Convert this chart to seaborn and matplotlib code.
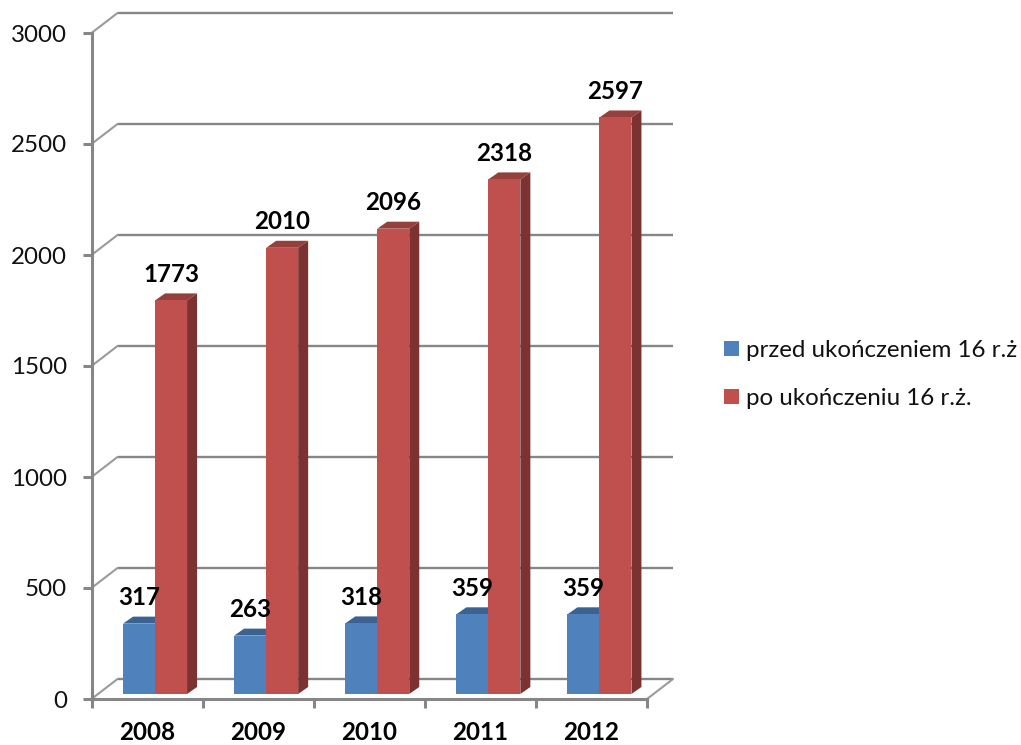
import matplotlib
matplotlib.use('Agg')
import matplotlib.pyplot as plt
from matplotlib.patches import Polygon
import pandas as pd
import seaborn as sns

years = ['2008', '2009', '2010', '2011', '2012']
before_16 = [317, 263, 318, 359, 359]
after_16 = [1773, 2010, 2096, 2318, 2597]
series_names = ['przed ukończeniem 16 r.ż', 'po ukończeniu 16 r.ż.']
y_ticks = [0, 500, 1000, 1500, 2000, 2500, 3000]

FACE = ['#4F81BD', '#C0504D']
TOP = ['#3C6291', '#96403D']
SIDE = ['#2F4F76', '#7B3230']
GREY = '#868686'
W, H = 1021, 745
FS = 17.4

sns.set_style('white')
plt.rcParams['font.family'] = ['Lato', 'DejaVu Sans']
plt.rcParams['font.size'] = FS

df = pd.DataFrame({
    'year': years * 2,
    'value': before_16 + after_16,
    'series': [series_names[0]] * 5 + [series_names[1]] * 5,
})

fig = plt.figure(figsize=(W / 100, H / 100), dpi=100)

# front axis frame, pixel box
ax = fig.add_axes([91.5 / W, (H - 699) / H, 555.5 / W, 666 / H])
ax.set_xlim(-0.5, 4.5)
ax.set_ylim(0, 3000)
px_x = 5 / 555.5
px_y = 3000 / 666

# back wall lines and the diagonals that join them to the front axis
back_x, back_y = 26 * px_x, 20 * px_y
for t in y_ticks:
    ax.plot([-0.5 + back_x, 4.5 + back_x], [t + back_y, t + back_y], color=GREY,
            lw=1.7, clip_on=False, solid_capstyle='butt')
    ax.plot([-0.5, -0.5 + back_x], [t, t + back_y], color='#9a9a9a', lw=1.5, clip_on=False)
ax.plot([4.5, 4.5 + back_x], [0, back_y], color='#9a9a9a', lw=1.5, clip_on=False)

sns.despine(ax=ax)
ax.spines['left'].set(color=GREY, linewidth=2.2)
ax.spines['bottom'].set(color=GREY, linewidth=2.2)
ax.set_yticks(y_ticks)
ax.set_xticks([i - 0.5 for i in range(6)])
ax.set_xticklabels([])
ax.set_xticks(range(5), years, minor=True, fontweight='bold')
ax.tick_params(axis='x', which='minor', length=0, pad=15.5, labelsize=FS, labelcolor='black')
ax.tick_params(axis='x', which='major', length=6.5, width=2.2, color=GREY, bottom=True)
ax.tick_params(axis='y', length=6.5, width=2.2, color=GREY, left=True, pad=11,
               labelsize=FS, labelcolor='#111111')

# bars sit on the floor, a bit behind the front axis
bx = fig.add_axes([(91.5 + 8) / W, (H - 694) / H, 555.5 / W, 666 / H])
bx.patch.set_alpha(0)
sns.barplot(data=df, x='year', y='value', hue='series', palette=FACE, width=0.576,
            gap=0, saturation=1, linewidth=0, ax=bx, zorder=3)
bx.set_xlim(-0.5, 4.5)
bx.set_ylim(0, 3000)
bx.axis('off')

depth_x, depth_y = 10 * px_x, 7 * px_y
for s, container in enumerate(bx.containers):
    for bar in container:
        x0, w, h = bar.get_x(), bar.get_width(), bar.get_height()
        x1 = x0 + w
        bx.add_patch(Polygon([(x0, h), (x1, h), (x1 + depth_x, h + depth_y), (x0 + depth_x, h + depth_y)],
                             facecolor=TOP[s], lw=0, zorder=2 + s * 2))
        bx.add_patch(Polygon([(x1, 0), (x1 + depth_x, depth_y), (x1 + depth_x, h + depth_y), (x1, h)],
                             facecolor=SIDE[s], lw=0, zorder=2 + s * 2))
        bar.set_zorder(3 + s * 2)
    bx.bar_label(container, padding=10.5, fontsize=FS, fontweight='bold', color='black', zorder=10)

handles, labels = bx.get_legend_handles_labels()
bx.get_legend().remove()
fig.legend(handles, labels, loc='upper left', bbox_to_anchor=(724 / W, 1 - 340 / H), frameon=False,
           fontsize=FS, handlelength=0.62, handleheight=0.62, handletextpad=0.3,
           labelspacing=1.12, labelcolor='#111111', borderpad=0, borderaxespad=0)

fig.savefig('out.png', dpi=100, facecolor='white')
